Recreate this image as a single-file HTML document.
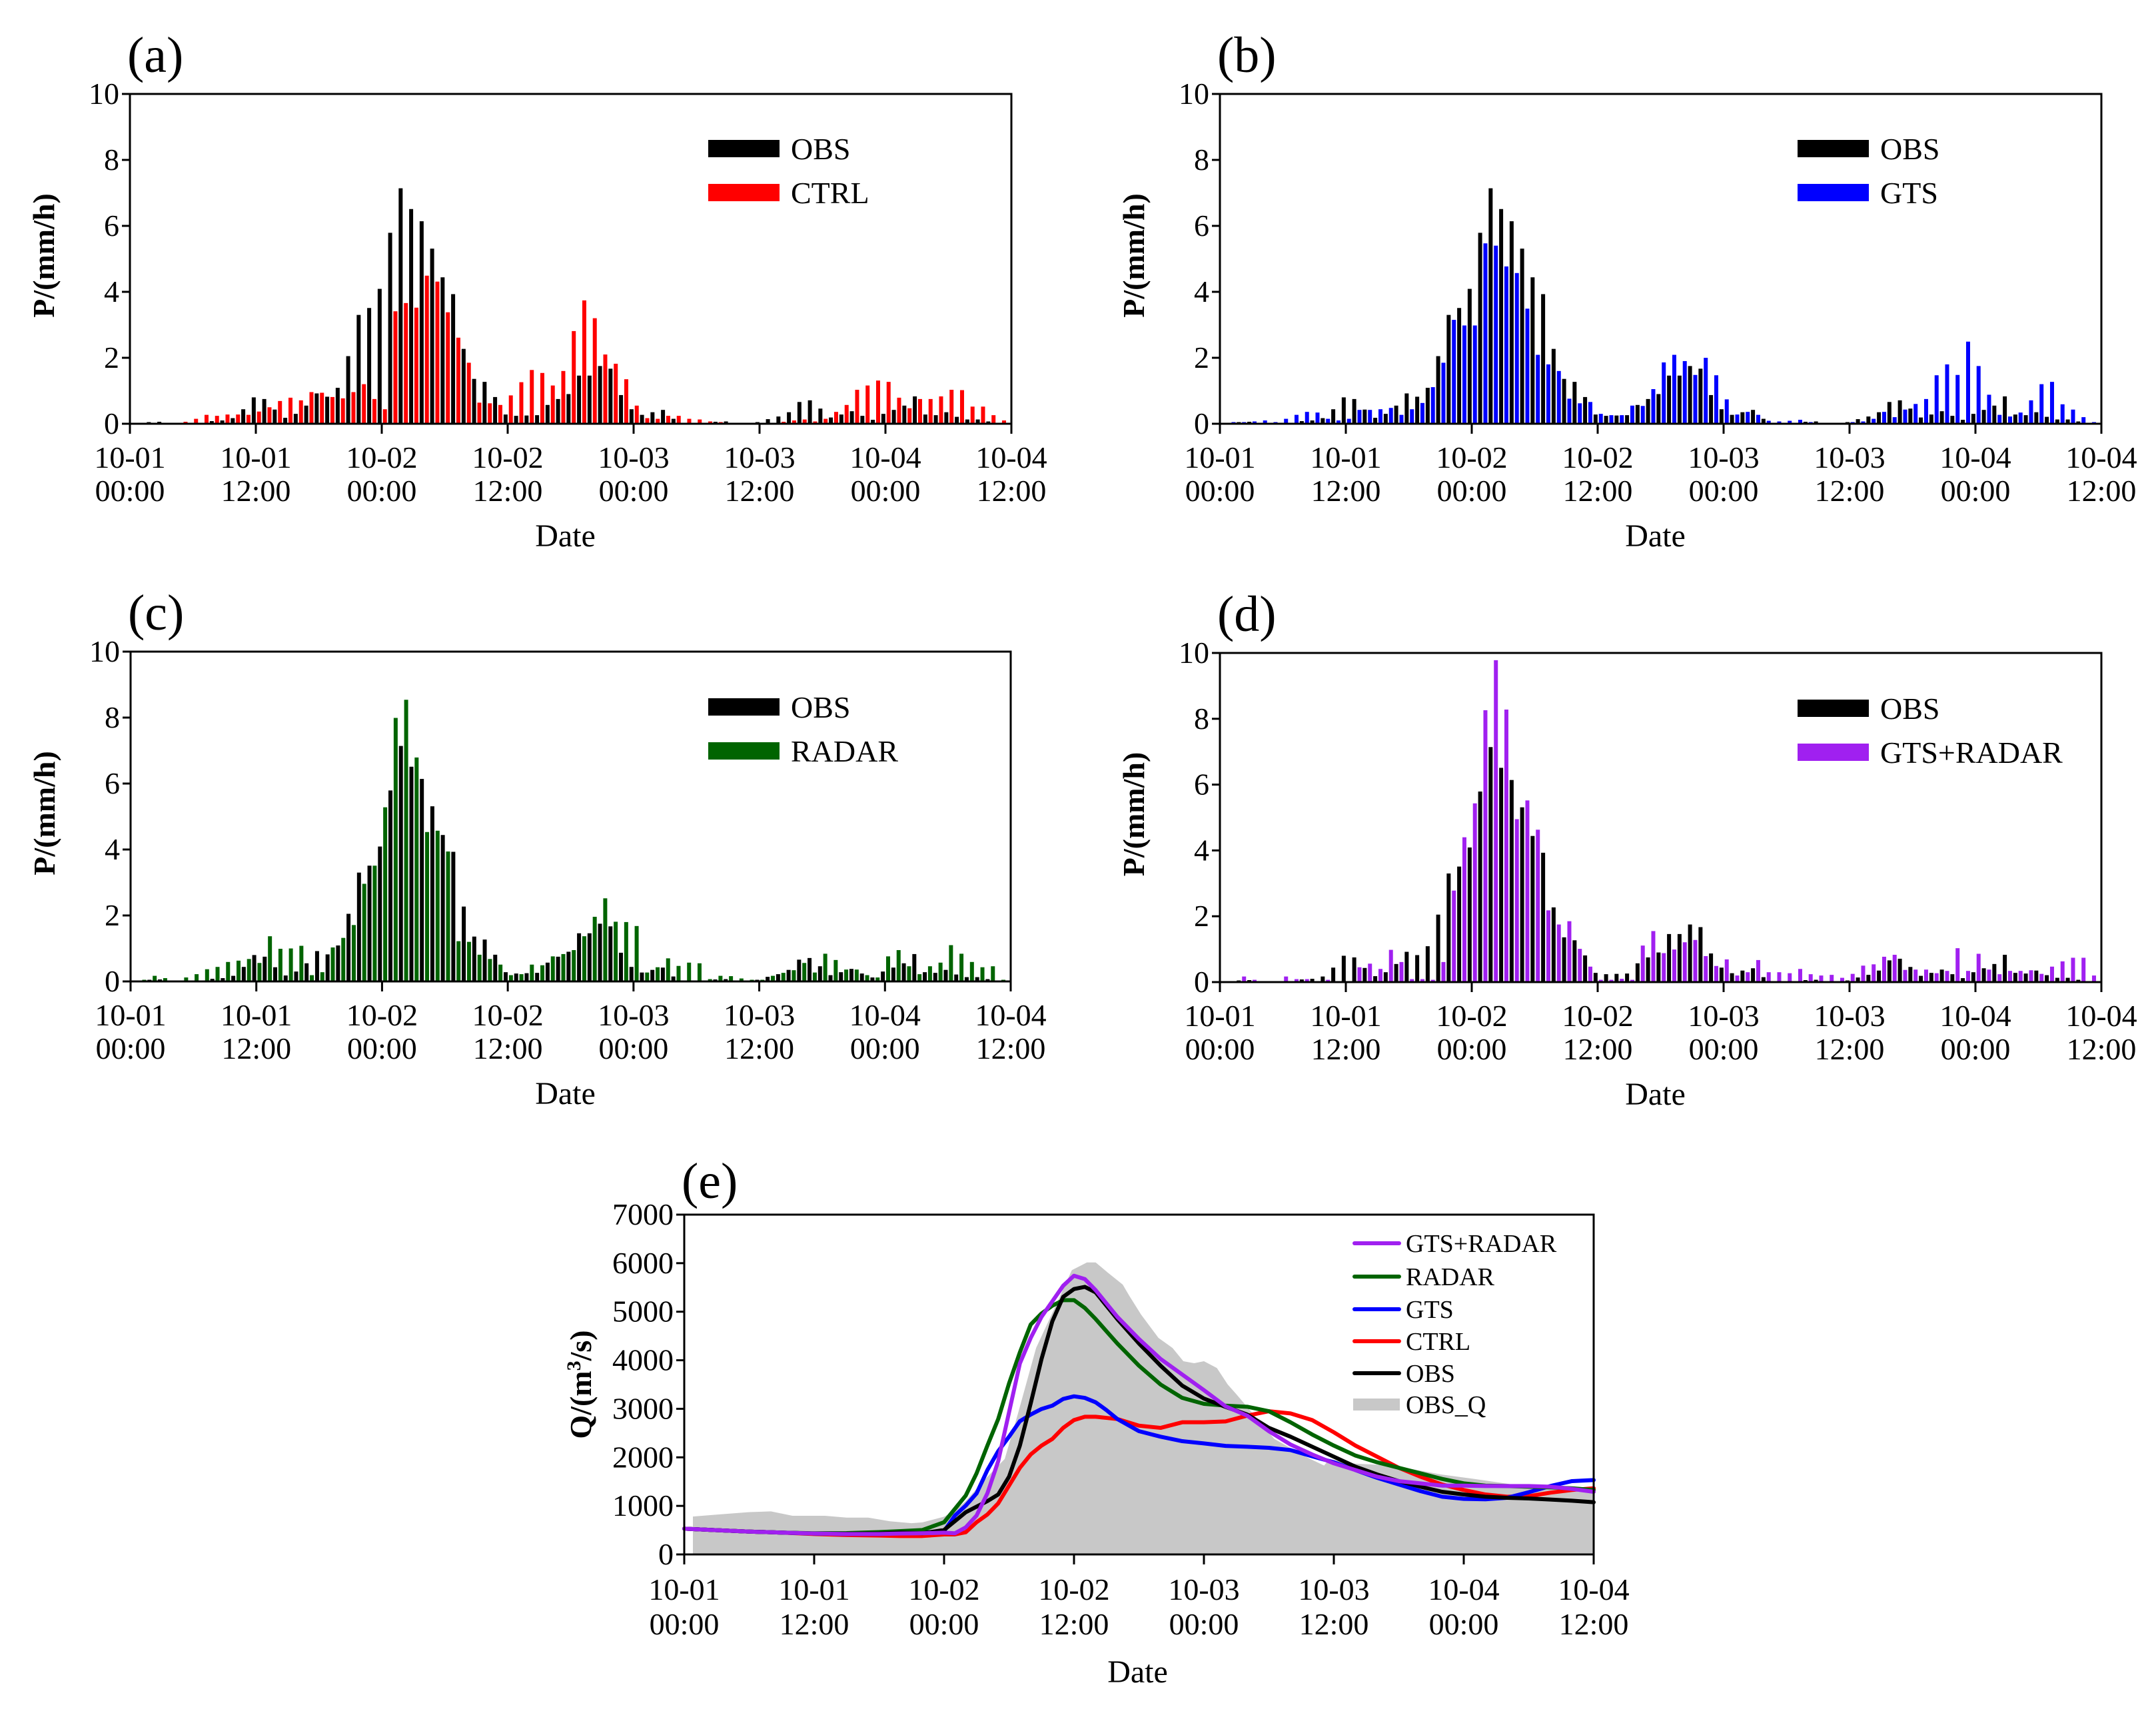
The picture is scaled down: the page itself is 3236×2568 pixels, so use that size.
<!DOCTYPE html>
<html><head><meta charset="utf-8"><title>Precipitation and discharge comparison</title>
<style>
html,body{margin:0;padding:0;background:#fff;}
svg{display:block;font-family:"Liberation Serif",serif;}
</style></head>
<body>
<svg id="fig" width="3236" height="2568" viewBox="0 0 3236 2568" xmlns="http://www.w3.org/2000/svg">
<rect x="0" y="0" width="3236" height="2568" fill="#fff"/>
</svg>
<script>
// ---- Hourly precipitation (hours 1..83), mm/h ----
const obsRain = [0.03,0.05,0.06,0,0,0,0,0.08,0.1,0.17,
0.44,0.8,0.75,0.43,0.18,0.3,0.55,0.92,0.82,1.09,
2.05,3.3,3.51,4.09,5.79,7.14,6.51,6.14,5.31,4.44,
3.93,2.27,1.36,1.27,0.81,0.28,0.24,0.25,0.26,0.57,
0.75,0.9,1.46,1.46,1.75,1.67,0.87,0.44,0.27,0.35,
0.42,0.15,0.03,0.02,0.03,0.06,0.07,0.03,0.03,0.05,
0.14,0.22,0.35,0.66,0.71,0.46,0.19,0.28,0.38,0.24,
0.12,0.3,0.42,0.55,0.83,0.28,0.26,0.35,0.21,0.13,
0.13,0.07,0.03];
const ctrlRain = [0.03,0,0.02,0,0.06,0.15,0.27,0.24,0.28,0.28,
0.27,0.37,0.5,0.69,0.79,0.71,0.96,0.94,0.81,0.77,
0.96,1.2,0.75,0.44,3.41,3.66,3.52,4.49,4.31,3.38,
2.61,1.85,0.64,0.62,0.57,0.86,1.26,1.63,1.54,1.16,
1.6,2.81,3.74,3.2,2.1,1.82,1.35,0.55,0.17,0.15,
0.24,0.24,0.15,0.13,0.07,0.05,0.03,0.02,0.02,0.02,
0.03,0.06,0.1,0.13,0.07,0.15,0.36,0.57,1.03,1.16,
1.31,1.27,0.79,0.47,0.75,0.75,0.83,1.03,1.02,0.52,
0.52,0.26,0.1];
const gtsRain = [0.05,0.05,0.07,0.1,0.05,0.15,0.27,0.36,0.34,0.15,
0.1,0.15,0.42,0.42,0.44,0.48,0.27,0.44,0.63,1.11,
1.85,3.15,2.98,2.98,5.47,5.4,4.77,4.57,3.49,2.09,
1.8,1.6,0.76,0.62,0.66,0.3,0.26,0.26,0.55,0.54,
1.05,1.86,2.09,1.9,1.48,2.0,1.47,0.74,0.28,0.36,
0.27,0.09,0.07,0.09,0.12,0.05,0.03,0.03,0.03,0.05,
0.07,0.15,0.36,0.2,0.43,0.6,0.75,1.47,1.8,1.48,
2.49,1.75,0.88,0.27,0.22,0.34,0.71,1.2,1.27,0.59,
0.43,0.2,0.05];
const radarRain = [0.05,0.17,0.1,0.02,0.12,0.22,0.37,0.44,0.59,0.63,
0.68,0.56,1.37,0.99,1.0,1.08,0.19,0.28,1.03,1.32,
1.71,2.96,3.51,5.28,7.99,8.54,6.79,4.53,4.57,3.94,
1.22,1.2,0.81,0.68,0.51,0.19,0.22,0.51,0.49,0.76,
0.83,0.95,1.37,1.96,2.52,1.81,1.8,1.68,0.27,0.43,
0.7,0.47,0.57,0.55,0.07,0.17,0.16,0.09,0.05,0.05,
0.17,0.26,0.34,0.56,0.27,0.84,0.65,0.36,0.36,0.19,
0.12,0.76,0.95,0.46,0.22,0.46,0.57,1.1,0.84,0.59,
0.43,0.46,0.05];
const gtsRadarRain = [0.03,0.17,0.07,0.02,0.02,0.17,0.09,0.09,0.03,0.07,
0.02,0.02,0.45,0.56,0.4,0.98,0.61,0.09,0.09,0.07,
0.61,2.78,4.4,5.43,8.26,9.78,8.28,4.95,5.52,4.63,
2.18,1.75,1.85,1.01,0.47,0.07,0.07,0.1,0.07,1.11,
1.55,0.88,0.99,1.21,1.28,0.79,0.49,0.69,0.2,0.3,
0.67,0.3,0.3,0.27,0.4,0.24,0.2,0.22,0.13,0.25,
0.5,0.54,0.77,0.83,0.37,0.38,0.38,0.27,0.34,1.03,
0.34,0.86,0.38,0.24,0.34,0.34,0.36,0.25,0.47,0.63,
0.74,0.74,0.2];
const rainTicks = [0,2,4,6,8,10];
const dateTop = ["10-01","10-01","10-02","10-02","10-03","10-03","10-04","10-04"];
const dateBot = ["00:00","12:00","00:00","12:00","00:00","12:00","00:00","12:00"];

// ---- Discharge (m3/s) ----
const qHours = [0,3,6,9,12,15,18,20,22,24,25,26,27,28,29,30,31,32,33,34,35,36,37,38,39,40,42,44,46,48,50,52,54,56,58,60,62,64,66,68,70,72,74,76,78,80,82,84];
const qObs = [530,500,470,450,430,425,430,450,435,503,686,869,984,1098,1235,1601,2242,3111,4026,4803,5306,5467,5512,5398,5124,4849,4346,3888,3477,3211,3040,2882,2607,2425,2219,2013,1807,1647,1510,1395,1290,1235,1189,1166,1153,1130,1107,1075];
const qRadar = [530,500,470,450,435,440,460,480,503,663,938,1212,1670,2242,2790,3522,4163,4735,4963,5124,5238,5238,5078,4849,4597,4346,3888,3500,3225,3102,3065,3042,2950,2722,2470,2242,2036,1898,1784,1670,1555,1464,1418,1409,1395,1381,1363,1327];
const qGtsRadar = [530,500,470,450,430,420,420,430,435,448,435,558,800,1258,1921,2928,3934,4460,4895,5215,5535,5741,5672,5444,5169,4895,4437,4026,3705,3385,3050,2859,2539,2264,2059,1876,1738,1601,1510,1464,1418,1418,1409,1409,1409,1395,1350,1290];
const qGts = [530,500,470,450,430,420,420,440,448,480,800,1006,1258,1738,2127,2425,2745,2882,2996,3065,3202,3257,3225,3134,2973,2790,2539,2425,2333,2287,2235,2219,2196,2150,2022,1898,1738,1578,1441,1304,1189,1144,1135,1166,1281,1409,1510,1532];
const qCtrl = [530,500,470,450,420,400,390,380,380,412,412,457,663,823,1052,1418,1784,2059,2242,2379,2607,2768,2836,2836,2813,2790,2653,2607,2722,2722,2740,2859,2950,2905,2768,2516,2242,2013,1784,1601,1441,1327,1235,1189,1199,1272,1327,1363];
const obsQHours = [0.8,3,6,8,10,13,15,17,19,21,22,24,25,26,27,28,29.6,30.8,32.5,34.4,35.8,37.2,38,39.1,40.5,41.1,42.2,43.8,45.1,46.1,47.1,48,49.2,50.2,51,54.5,57.4,59.1,59.6,61.5,65.5,69.9,73,76.5,79.8,84];
const obsQ = [780,820,872,887,796,796,758,758,682,644,660,778,900,1100,1350,1600,1967,2882,4254,5170,5856,6016,6016,5810,5558,5330,4940,4460,4254,3980,3940,3980,3840,3500,3300,2379,2013,1830,1967,1876,1830,1647,1555,1441,1395,1327];
const qTicks = [0,1000,2000,3000,4000,5000,6000,7000];

const NS = "http://www.w3.org/2000/svg";
const svg = document.getElementById('fig');
function mk(tag, attrs, parent){
  const e = document.createElementNS(NS, tag);
  for (const k in attrs) e.setAttribute(k, attrs[k]);
  (parent||svg).appendChild(e);
  return e;
}
function txt(s, attrs, parent){ const t = mk('text', attrs, parent); t.textContent = s; return t; }

function rainPanel(cfg){
  const g = mk('g', {});
  
  
  const L = cfg.x0, R = cfg.x1, T = cfg.top, B = cfg.bot;
  const xs = h => L + (R - L) * h / 84;
  const ys = v => B - (B - T) * v / 10;
  const bw = 6;
  for (let i = 0; i < obsRain.length; i++){
    const h = i + 1;
    const v1 = obsRain[i];
    const r1 = mk('rect', {x: xs(h - 0.2) - bw/2, y: ys(v1), width: bw, height: B - ys(v1), fill: '#000'}, g);
    
    
    const v2 = cfg.model[i];
    const r2 = mk('rect', {x: xs(h + 0.3) - bw/2, y: ys(v2), width: bw, height: B - ys(v2), fill: cfg.color}, g);
    
    
  }
  const fr = mk('rect', {x: L, y: T, width: R - L, height: B - T, fill: 'none', stroke: '#000', 'stroke-width': 3}, g);
  
  
  for (const v of rainTicks){
    const tl = mk('line', {x1: L - 12, x2: L, y1: ys(v), y2: ys(v), stroke: '#000', 'stroke-width': 3}, g);
    
    
    const tt = txt(String(v), {x: L - 16, y: ys(v) + 15, 'text-anchor': 'end', 'font-size': 46}, g);
    
    
  }
  for (let k = 0; k < dateTop.length; k++){
    const x = xs(k * 12);
    const tl = mk('line', {x1: x, x2: x, y1: B, y2: B + 15, stroke: '#000', 'stroke-width': 3}, g);
    
    
    const t1 = txt(dateTop[k], {x: x, y: B + 66, 'text-anchor': 'middle', 'font-size': 46}, g);
    
    
    const t2 = txt(dateBot[k], {x: x, y: B + 116, 'text-anchor': 'middle', 'font-size': 46}, g);
    
    
  }
  const xl = txt('Date', {x: (L + R) / 2 - 8, y: B + 184, 'text-anchor': 'middle', 'font-size': 48}, g);
  
  
  const yl = txt('P/(mm/h)', {x: 0, y: 0, 'text-anchor': 'middle', 'font-size': 46, 'font-weight': 'bold', transform: `translate(${L - 114},${(T + B) / 2 - 5}) rotate(-90)`}, g);
  
  
  const pl = txt('(' + cfg.id + ')', {x: L - 4, y: T - 33, 'font-size': 76}, g);
  
  
  const lx = cfg.legX, ly = T + cfg.legDy;
  const s1 = mk('rect', {x: lx, y: ly - 13, width: 107, height: 26, fill: '#000'}, g);
  
  
  const l1 = txt('OBS', {x: lx + 124, y: ly + 16, 'font-size': 46}, g);
  
  
  const s2 = mk('rect', {x: lx, y: ly + 53, width: 107, height: 26, fill: cfg.color}, g);
  
  
  const l2 = txt(cfg.name, {x: lx + 124, y: ly + 82, 'font-size': 46}, g);
  
  
}

rainPanel({id:'a', x0:195, x1:1518, top:141, bot:636, model:ctrlRain, color:'#ff0000', name:'CTRL', legX:1063, legDy:82});
rainPanel({id:'b', x0:1831, x1:3154, top:141, bot:636, model:gtsRain, color:'#0000ff', name:'GTS', legX:2698, legDy:82});
rainPanel({id:'c', x0:196, x1:1517, top:978, bot:1473, model:radarRain, color:'#006400', name:'RADAR', legX:1063, legDy:83});
rainPanel({id:'d', x0:1831, x1:3154, top:980, bot:1474, model:gtsRadarRain, color:'#a020f0', name:'GTS+RADAR', legX:2698, legDy:83});

(function(){
  const g = mk('g', {});
  
  
  const L = 1027, R = 2392, T = 1823, B = 2333;
  const xs = h => L + (R - L) * h / 84;
  const ys = v => B - (B - T) * v / 7000;
  let d = `M${xs(obsQHours[0])},${B}`;
  for (let i = 0; i < obsQ.length; i++) d += ` L${xs(obsQHours[i])},${ys(obsQ[i])}`;
  d += ` L${xs(obsQHours[obsQHours.length-1])},${B} Z`;
  const area = mk('path', {d: d, fill: '#c8c8c8', stroke: 'none'}, g);
  
  
  const series = [
    {vals: qCtrl, color: '#ff0000', name: 'ctrl-line'},
    {vals: qGts, color: '#0000ff', name: 'gts-line'},
    {vals: qRadar, color: '#006400', name: 'radar-line'},
    {vals: qObs, color: '#000000', name: 'obs-line'},
    {vals: qGtsRadar, color: '#a020f0', name: 'gts-radar-line'}
  ];
  for (const s of series){
    let p = '';
    for (let i = 0; i < qHours.length; i++) p += (i ? ' L' : 'M') + xs(qHours[i]) + ',' + ys(s.vals[i]);
    const pe = mk('path', {d: p, fill: 'none', stroke: s.color, 'stroke-width': 6, 'stroke-linejoin': 'round', 'stroke-linecap': 'round'}, g);
    
    
  }
  const fr = mk('rect', {x: L, y: T, width: R - L, height: B - T, fill: 'none', stroke: '#000', 'stroke-width': 3}, g);
  
  
  for (const v of qTicks){
    const tl = mk('line', {x1: L - 12, x2: L, y1: ys(v), y2: ys(v), stroke: '#000', 'stroke-width': 3}, g);
    
    
    const tt = txt(String(v), {x: L - 16, y: ys(v) + 15, 'text-anchor': 'end', 'font-size': 46}, g);
    
    
  }
  for (let k = 0; k < dateTop.length; k++){
    const x = xs(k * 12);
    const tl = mk('line', {x1: x, x2: x, y1: B, y2: B + 15, stroke: '#000', 'stroke-width': 3}, g);
    
    
    const t1 = txt(dateTop[k], {x: x, y: B + 68, 'text-anchor': 'middle', 'font-size': 46}, g);
    
    
    const t2 = txt(dateBot[k], {x: x, y: B + 120, 'text-anchor': 'middle', 'font-size': 46}, g);
    
    
  }
  const xl = txt('Date', {x: (L + R) / 2 - 2, y: B + 192, 'text-anchor': 'middle', 'font-size': 48}, g);
  
  
  const yl = mk('text', {x: 0, y: 0, 'text-anchor': 'middle', 'font-size': 46, 'font-weight': 'bold', transform: `translate(${L - 140},${(T + B) / 2}) rotate(-90)`}, g);
  
  
  yl.innerHTML = 'Q/(m<tspan dy="-16" font-size="30">3</tspan><tspan dy="16">/s)</tspan>';
  const pl = txt('(e)', {x: L - 4, y: T - 25, 'font-size': 76}, g);
  
  
  const legNames = ['GTS+RADAR','RADAR','GTS','CTRL','OBS','OBS_Q'];
  const legColors = ['#a020f0','#006400','#0000ff','#ff0000','#000000','#c8c8c8'];
  const legY = [1866,1916,1965,2013,2061,2108];
  for (let i = 0; i < legNames.length; i++){
    let sw;
    if (i < 5) sw = mk('line', {x1: 2033, x2: 2100, y1: legY[i], y2: legY[i], stroke: legColors[i], 'stroke-width': 6, 'stroke-linecap': 'round'}, g);
    else sw = mk('rect', {x: 2031, y: legY[i] - 9, width: 70, height: 18, fill: legColors[i]}, g);
    
    
    const lt = txt(legNames[i], {x: 2110, y: legY[i] + 13, 'font-size': 38}, g);
    
    
  }
})();
</script>
</body></html>
